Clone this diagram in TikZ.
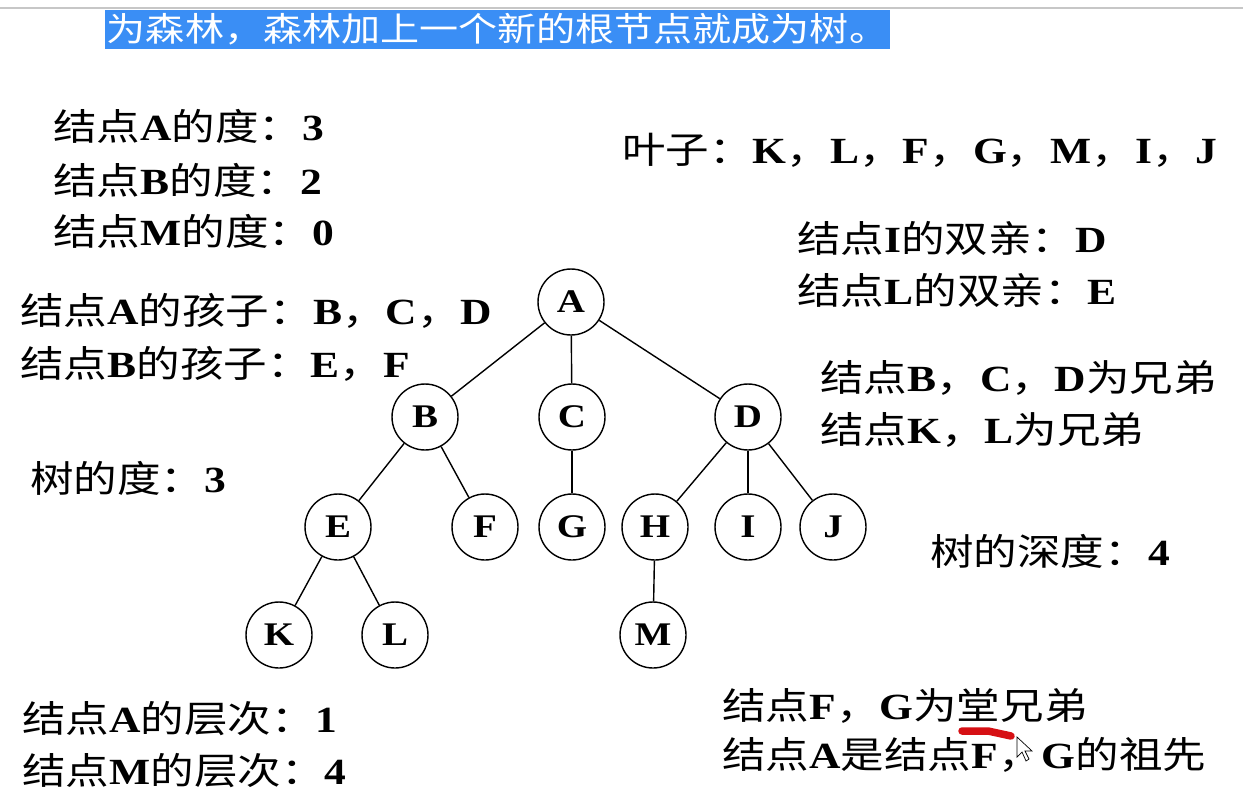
\documentclass[tikz,border=0pt]{standalone}
\usepackage{fontspec}
\usepackage{graphicx}
\setmainfont{Liberation Serif}
\newfontfamily\cjk{Noto Sans CJK SC}
\usetikzlibrary{positioning}
\definecolor{hiblue}{RGB}{58,142,245}
\definecolor{markred}{RGB}{214,16,20}
% wide glyphs like the slide
\newcommand{\zh}[1]{\scalebox{1.18}[1]{#1}}
\newcommand{\lb}[1]{{\rmfamily\bfseries #1}}

\begin{document}
\begin{tikzpicture}[x=0.02cm,y=-0.02cm,
    info/.style={anchor=west,inner sep=0pt,font=\cjk\fontsize{21}{25}\selectfont},
    vertex/.style={circle,draw,line width=0.8pt,minimum size=1.32cm,inner sep=0pt,
        font=\rmfamily\bfseries\fontsize{18.8}{22}\selectfont},
    branch/.style={line width=0.8pt}]
        \useasboundingbox (0,0) rectangle (1243,805);

        % ==========================================
        % Selected line at the top
        % ==========================================
        \draw[black!22, line width=1pt] (0,8) -- (1243,8);
        \node[fill=hiblue, text=white, inner sep=0pt, minimum width=15.7cm, minimum height=0.78cm,
            font=\cjk\fontsize{19}{23}\selectfont] (title) at (497.5,29.5)
            {\scalebox{1.17}[1]{为森林，森林加上一个新的根节点就成为树。}};

        % ==========================================
        % Tree
        % ==========================================
        \node[vertex] (A) at (571,302) {\zh{A}};
        \node[vertex] (B) at (425,417) {\zh{B}};
        \node[vertex] (C) at (572,417) {\zh{C}};
        \node[vertex] (D) at (748,417) {\zh{D}};
        \node[vertex] (E) at (338,527) {\zh{E}};
        \node[vertex] (F) at (485,527) {\zh{F}};
        \node[vertex] (G) at (572,527) {\zh{G}};
        \node[vertex] (H) at (655,527) {\zh{H}};
        \node[vertex] (I) at (748,527) {\zh{I}};
        \node[vertex] (J) at (833,527) {\zh{J}};
        \node[vertex] (K) at (279,635) {\zh{K}};
        \node[vertex] (L) at (395,635) {\zh{L}};
        \node[vertex] (M) at (653,635) {\zh{M}};

        \draw[branch] (A) -- (B);
        \draw[branch] (A) -- (C);
        \draw[branch] (A) -- (D);
        \draw[branch] (B) -- (E);
        \draw[branch] (B) -- (F);
        \draw[branch] (C) -- (G);
        \draw[branch] (D) -- (H);
        \draw[branch] (D) -- (I);
        \draw[branch] (D) -- (J);
        \draw[branch] (E) -- (K);
        \draw[branch] (E) -- (L);
        \draw[branch] (H) -- (M);

        % ==========================================
        % Terms, left side
        % ==========================================
        \node[info] (degA) at (53,126) {\zh{结点\lb{A}的度：\lb{3}}};
        \node[info] (degB) at (53,180) {\zh{结点\lb{B}的度：\lb{2}}};
        \node[info] (degM) at (53,231) {\zh{结点\lb{M}的度：\lb{0}}};
        \node[info] (kidsA) at (20,311) {\zh{结点\lb{A}的孩子：\lb{B}，\lb{C}，\lb{D}}};
        \node[info] (kidsB) at (20,364) {\zh{结点\lb{B}的孩子：\lb{E}，\lb{F}}};
        \node[info] (treedeg) at (30,478) {\zh{树的度：\lb{3}}};
        \node[info] (lvlA) at (22,719) {\zh{结点\lb{A}的层次：\lb{1}}};
        \node[info] (lvlM) at (22,771) {\zh{结点\lb{M}的层次：\lb{4}}};

        % ==========================================
        % Terms, right side
        % ==========================================
        \node[info] (leaves) at (622,150) {\zh{叶子：\lb{K}，\lb{L}，\lb{F}，\lb{G}，\lb{M}，\lb{I}，\lb{J}}};
        \node[info] (parI) at (797,238) {\zh{结点\lb{I}的双亲：\lb{D}}};
        \node[info] (parL) at (797,290) {\zh{结点\lb{L}的双亲：\lb{E}}};
        \node[info] (sibBCD) at (820,378) {\zh{结点\lb{B}，\lb{C}，\lb{D}为兄弟}};
        \node[info] (sibKL) at (820,430) {\zh{结点\lb{K}，\lb{L}为兄弟}};
        \node[info] (depth) at (930,551) {\zh{树的深度：\lb{4}}};
        \node[info] (cousin) at (722,706) {\zh{结点\lb{F}，\lb{G}为堂兄弟}};
        \node[info] (ances) at (722,755) {\zh{结点\lb{A}是结点\lb{F}，\lb{G}的祖先}};

        % ==========================================
        % Pen mark and pointer
        % ==========================================
        \draw[markred, line width=0.15cm, line cap=round] (962,731) -- (988,731) -- (1011,736);
        \draw[fill=white, line width=0.4pt] (1017,737) -- (1017,757) -- (1022,752) -- (1026,761)
            -- (1029,759) -- (1025,751) -- (1032,751) -- cycle;

    \end{tikzpicture}
\end{document}
